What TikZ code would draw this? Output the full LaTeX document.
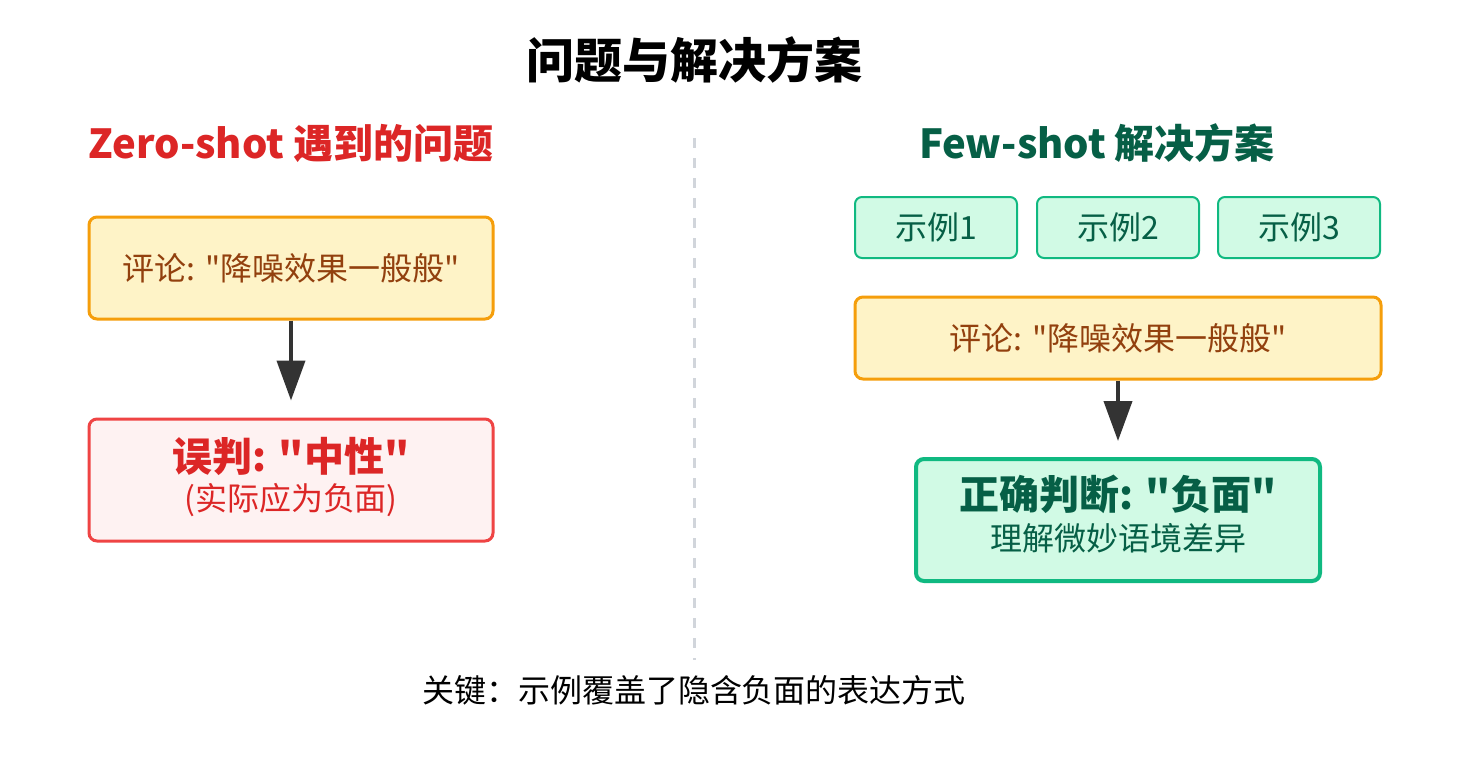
\documentclass[tikz,border=0pt]{standalone}
\usepackage{fontspec}
\setmainfont{Noto Sans CJK SC}[Ligatures=TeXOff]
\usetikzlibrary{arrows.meta}
\newcommand\dq{\char34\relax}
\definecolor{orbd}{HTML}{F59E0B}
\definecolor{orfill}{HTML}{FEF3C7}
\definecolor{ortext}{HTML}{92400E}
\definecolor{rdbd}{HTML}{EF4444}
\definecolor{rdfill}{HTML}{FEF2F2}
\definecolor{rdtext}{HTML}{DC2626}
\definecolor{gnbd}{HTML}{10B981}
\definecolor{gnfill}{HTML}{D1FAE5}
\definecolor{gntext}{HTML}{065F46}
\definecolor{arrowc}{HTML}{333333}
\definecolor{dashc}{HTML}{D1D5DB}
\begin{document}
\begin{tikzpicture}[x=0.5pt,y=-0.5pt,
  box/.style={rectangle, rounded corners=4pt, line width=1.5pt, inner sep=0pt, align=center},
  combox/.style={box, draw=orbd, fill=orfill, text=ortext, font=\fontsize{16}{19}\selectfont},
  exbox/.style={box, rounded corners=3.5pt, line width=1pt, draw=gnbd, fill=gnfill, text=gntext, font=\fontsize{16}{19}\selectfont, minimum width=81pt, minimum height=30.5pt},
  flow/.style={draw=arrowc, line width=2pt, -{Triangle[length=20pt,width=14pt]}},
  heading/.style={font=\fontsize{20}{24}\selectfont\bfseries},
  intext/.style={align=center, inner sep=0pt}
]
\useasboundingbox[fill=white] (0,0) rectangle (1469,767);

\node[font=\fontsize{24}{29}\selectfont\bfseries] (title) at (694,60) {问题与解决方案};

\coordinate (dtop) at (694,138);
\coordinate (dbot) at (694,660);
\draw[dashc, line width=1.5pt, dash pattern=on 5pt off 5pt] (dtop) -- (dbot);

% left
\node[heading, text=rdtext] (lh) at (291,143) {Zero-shot 遇到的问题};
\node[combox, minimum width=202pt, minimum height=51pt] (c1) at (291,268) {评论: \dq 降噪效果一般般\dq};
\node[box, draw=rdbd, fill=rdfill, minimum width=202pt, minimum height=61pt] (r1) at (291,480) {};
\node[intext, text=rdtext] (r1t) at (291,477)
  {{\fontsize{20}{24}\selectfont\bfseries 误判: \dq 中性\dq}\\[3pt]{\fontsize{16}{19}\selectfont (实际应为负面)}};
\draw[flow] (c1.south) -- ([yshift=8.5pt]r1.north);

% right
\node[heading, text=gntext] (rh) at (1097,143) {Few-shot 解决方案};
\node[exbox] (e1) at (936,227.5) {示例1};
\node[exbox] (e2) at (1118,227.5) {示例2};
\node[exbox] (e3) at (1299,227.5) {示例3};
\node[combox, minimum width=263pt, minimum height=41pt] (c2) at (1118,338) {评论: \dq 降噪效果一般般\dq};
\node[box, line width=2pt, draw=gnbd, fill=gnfill, minimum width=202pt, minimum height=61pt] (g1) at (1118,520) {};
\node[intext, text=gntext] (g1t) at (1118,514)
  {{\fontsize{20}{24}\selectfont\bfseries 正确判断: \dq 负面\dq}\\[4pt]{\fontsize{16}{19}\selectfont 理解微妙语境差异}};
\draw[flow] (c2.south) -- ([yshift=8pt]g1.north);

\node[font=\fontsize{16}{19}\selectfont] (key) at (694,690) {关键：示例覆盖了隐含负面的表达方式};
\end{tikzpicture}
\end{document}
